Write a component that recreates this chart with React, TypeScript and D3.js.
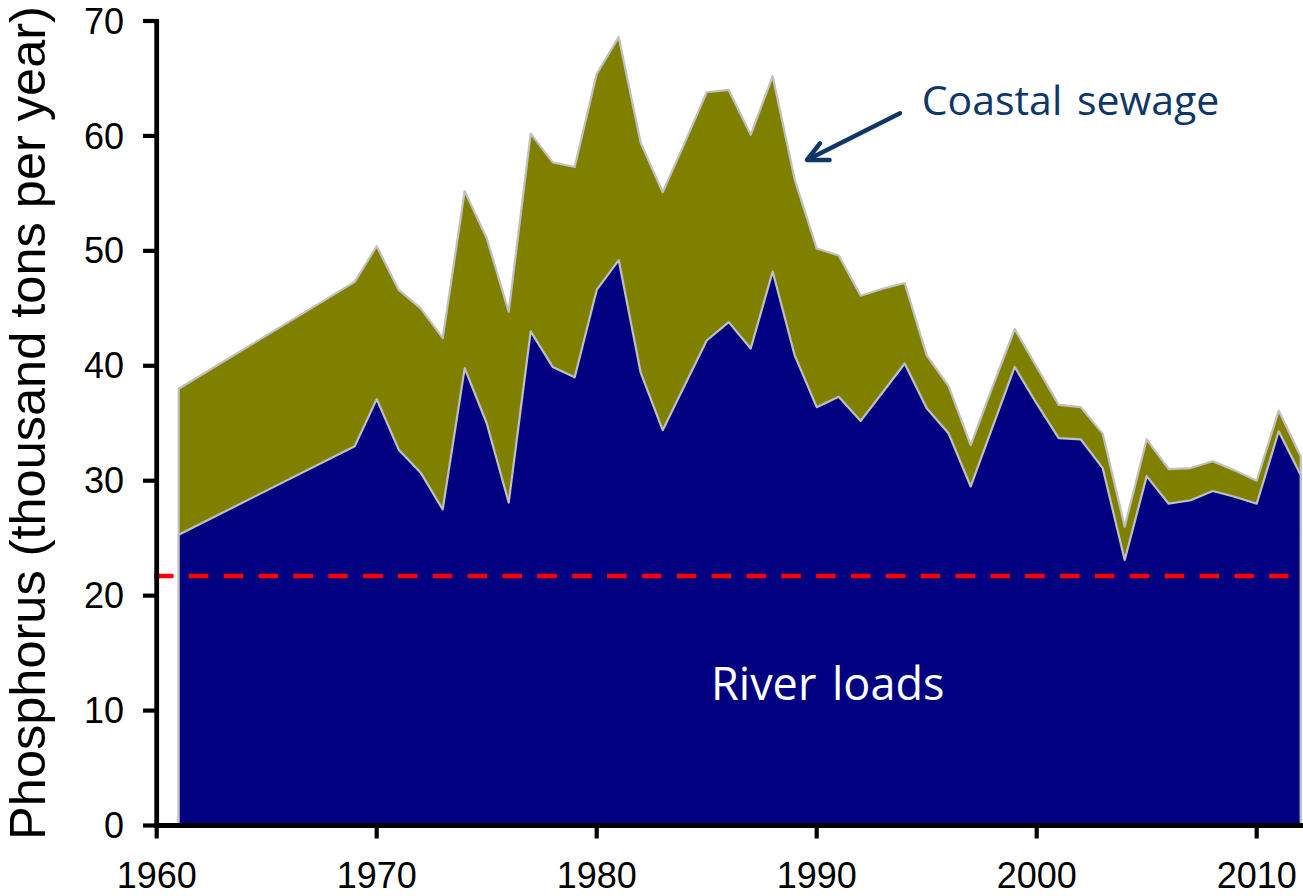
import React from "react";
import * as d3 from "d3";

const years = [1961, 1969, 1970, 1971, 1972, 1973, 1974, 1975, 1976, 1977, 1978, 1979, 1980, 1981, 1982, 1983, 1984, 1985, 1986, 1987, 1988, 1989, 1990, 1991, 1992, 1993, 1994, 1995, 1996, 1997, 1998, 1999, 2000, 2001, 2002, 2003, 2004, 2005, 2006, 2007, 2008, 2009, 2010, 2011, 2012];

// Total load (river loads + coastal sewage), thousand tons per year
const totalLoads = [38.0, 47.3, 50.4, 46.6, 45.0, 42.4, 55.2, 51.1, 44.7, 60.2, 57.7, 57.3, 65.4, 68.6, 59.4, 55.1, 59.4, 63.8, 64.0, 60.1, 65.2, 56.2, 50.2, 49.6, 46.1, 46.7, 47.2, 40.9, 38.2, 33.1, 38.2, 43.2, 39.9, 36.6, 36.4, 34.1, 26.0, 33.6, 31.0, 31.1, 31.7, 30.9, 30.0, 36.1, 32.1];

// River loads, thousand tons per year
const riverLoads = [25.3, 33.0, 37.1, 32.7, 30.7, 27.5, 39.8, 35.0, 28.1, 43.0, 39.9, 39.0, 46.6, 49.2, 39.4, 34.4, 38.3, 42.2, 43.8, 41.5, 48.2, 40.9, 36.4, 37.3, 35.2, 37.7, 40.2, 36.3, 34.1, 29.5, 34.7, 39.9, 36.7, 33.7, 33.6, 31.1, 23.1, 30.4, 28.0, 28.3, 29.1, 28.6, 28.0, 34.3, 30.5];

const targetLevel = 21.7;

const xTicks = [1960, 1970, 1980, 1990, 2000, 2010];
const yTicks = [0, 10, 20, 30, 40, 50, 60, 70];

const yLabel = "Phosphorus (thousand tons per year)";
const sewageLabel = "Coastal sewage";
const riverLabel = "River loads";

export default function App() {
  const W = 1303;
  const H = 896;
  const x = d3.scaleLinear().domain([1960, 2010]).range([156.7, 1256.7]);
  const y = d3.scaleLinear().domain([0, 70]).range([825.5, 21]);

  const rows = years.map((yr, i) => ({ yr, river: riverLoads[i], total: totalLoads[i] }));

  const totalArea = d3
    .area<any>()
    .x((d) => x(d.yr))
    .y0(() => y(0))
    .y1((d) => y(d.total));
  const riverArea = d3
    .area<any>()
    .x((d) => x(d.yr))
    .y0(() => y(0))
    .y1((d) => y(d.river));

  const axisFont = "'Liberation Sans', Arial, sans-serif";
  const labelFont = "'Open Sans', 'Noto Sans', sans-serif";

  return (
    <svg
      width={W}
      height={H}
      style={{ position: "absolute", left: 0, top: 0, display: "block", background: "#fff" }}
    >
      <path d={totalArea(rows) || ""} fill="#808000" stroke="#C0C0C0" strokeWidth={2.2} strokeLinejoin="round" />
      <path d={riverArea(rows) || ""} fill="#000080" stroke="#C0C0C0" strokeWidth={2.2} strokeLinejoin="round" />

      {/* target dashed line */}
      <line
        x1={154}
        x2={1288.5}
        y1={y(targetLevel)}
        y2={y(targetLevel)}
        stroke="#FF0000"
        strokeWidth={4.5}
        strokeDasharray="19.5 15.35"
      />

      {/* axes */}
      <line x1={156.7} x2={156.7} y1={y(70) - 2} y2={y(0) + 2} stroke="#000" strokeWidth={4.8} />
      <line x1={154.5} x2={W} y1={y(0)} y2={y(0)} stroke="#000" strokeWidth={4.8} />
      {yTicks.map((t) => (
        <g key={"yt" + t}>
          <line x1={143} x2={157} y1={y(t)} y2={y(t)} stroke="#000" strokeWidth={4.2} />
          <text
            x={124}
            y={y(t) + 12.6}
            textAnchor="end"
            fontFamily={axisFont}
            fontSize={36}
            fill="#000"
          >
            {t}
          </text>
        </g>
      ))}
      {xTicks.map((t) => (
        <g key={"xt" + t}>
          <line x1={x(t)} x2={x(t)} y1={y(0)} y2={y(0) + 13} stroke="#000" strokeWidth={4.2} />
          <text x={x(t)} y={888.3} textAnchor="middle" fontFamily={axisFont} fontSize={36} fill="#000">
            {t}
          </text>
        </g>
      ))}

      <text
        transform={`translate(45,423) rotate(-90)`}
        textAnchor="middle"
        fontFamily={axisFont}
        fontSize={50.5}
        fill="#000"
      >
        {yLabel}
      </text>

      {/* annotations */}
      <text x={921.7} y={115} fontFamily={labelFont} fontSize={41} fill="#0E3768" wordSpacing={4}>
        {sewageLabel}
      </text>
      <g stroke="#0E3768" strokeWidth={4.5} strokeLinecap="round" strokeLinejoin="round" fill="none">
        <line x1={900} y1={113.3} x2={808} y2={159.5} />
        <polyline points="820,143.3 807,160 829.5,160" />
      </g>
      <text x={711} y={700} fontFamily={labelFont} fontSize={45} fill="#FFFFFF" wordSpacing={4}>
        {riverLabel}
      </text>
    </svg>
  );
}
